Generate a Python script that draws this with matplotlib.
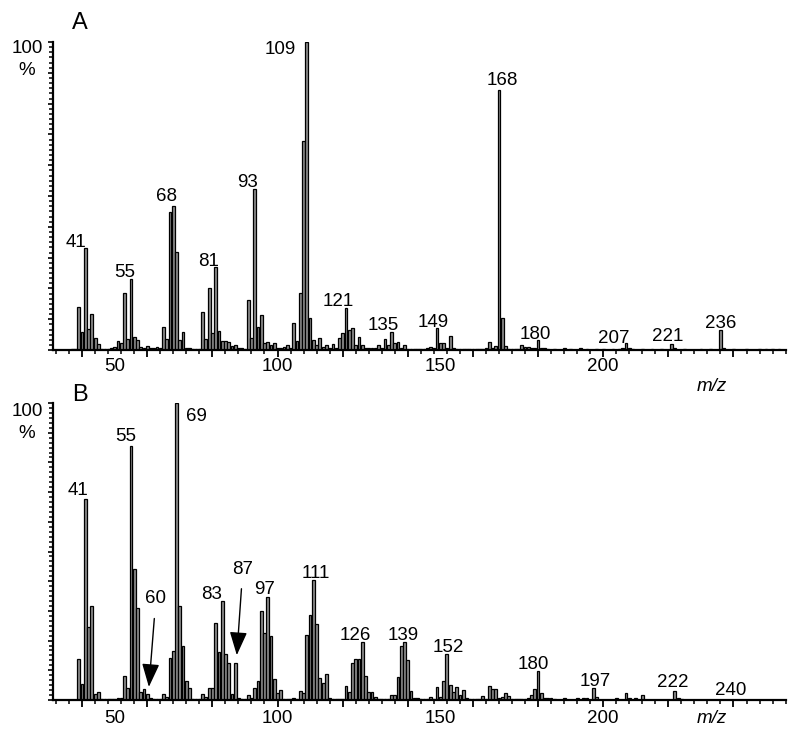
import matplotlib.pyplot as plt
from matplotlib.ticker import MultipleLocator

plt.rcParams['font.family'] = ['Liberation Sans', 'DejaVu Sans']

# spectrum A (m/z, relative intensity %)
mz_a = [37, 38, 39, 40, 41, 42, 43, 44, 45, 46, 47, 48, 49, 50, 51, 52, 53, 54, 55, 56,
        57, 58, 59, 60, 61, 62, 63, 64, 65, 66, 67, 68, 69, 70, 71, 72, 73, 74, 75, 76,
        77, 78, 79, 80, 81, 82, 83, 84, 85, 86, 87, 88, 89, 90, 91, 92, 93, 94, 95, 96,
        97, 98, 99, 100, 101, 102, 103, 104, 105, 106, 107, 108, 109, 110, 111, 112, 113, 114, 115, 116,
        117, 118, 119, 120, 121, 122, 123, 124, 125, 126, 127, 128, 129, 130, 131, 132, 133, 134, 135, 136,
        137, 138, 139, 140, 141, 142, 143, 144, 145, 146, 147, 148, 149, 150, 151, 152, 153, 154, 155, 156,
        157, 158, 159, 160, 161, 162, 163, 164, 165, 166, 167, 168, 169, 170, 171, 172, 173, 174, 175, 176,
        177, 178, 179, 180, 181, 182, 183, 185, 188, 190, 193, 195, 198, 200, 203, 205, 206, 207, 208, 209,
        212, 215, 218, 221, 222, 225, 230, 233, 236, 237, 240, 244, 248, 250, 252, 254]
int_a = [0.4, 0.4, 14, 6, 33, 6.7, 11.7, 3.8, 2, 0.4, 0.3, 0.3, 0.5, 0.9, 3, 2.2, 18.4, 3.5, 23, 4.3,
         3.2, 1, 0.5, 1.3, 0.5, 0.5, 1, 0.5, 7.6, 3.5, 44.7, 46.8, 31.8, 3.2, 6, 0.8, 0.6, 0.4, 0.4, 0.3,
         12.2, 3.5, 20, 5.4, 27, 6.2, 2.9, 2.9, 2.5, 1.2, 1.6, 0.5, 0.5, 0.3, 16.2, 4, 52.2, 7.6, 11.4, 2.4,
         2.7, 1.6, 2.4, 0.7, 0.7, 1, 1.6, 0.7, 8.8, 3, 18.6, 68, 100, 10.3, 3.2, 1.6, 3.8, 1, 1.6, 0.5,
         2, 0.5, 4, 5.6, 13.5, 6.5, 7.3, 1.6, 4.3, 1.6, 0.7, 0.7, 0.5, 0.5, 1.6, 0.5, 3.5, 1.6, 5.7, 2.2,
         2.7, 0.5, 1.6, 0.3, 0.3, 0.4, 0.3, 0.3, 0.4, 0.5, 1, 0.5, 7.3, 2.2, 2.4, 0.5, 4.7, 0.5, 0.3, 0.3,
         0.3, 0.3, 0.4, 0.4, 0.4, 0.3, 0.3, 0.5, 2.7, 0.5, 1.3, 84.4, 10.5, 1.3, 0.4, 0.3, 0.3, 0.3, 1.6, 1,
         1, 0.8, 0.5, 3.2, 0.8, 0.5, 0.4, 0.3, 0.6, 0.3, 0.6, 0.4, 0.4, 0.3, 0.4, 0.4, 0.5, 2.2, 0.8, 0.4,
         0.3, 0.3, 0.3, 1.8, 0.5, 0.3, 0.3, 0.3, 6.5, 0.5, 0.3, 0.3, 0.3, 0.3, 0.3, 0.3]
labels_a = [41, 55, 68, 81, 93, 109, 121, 135, 149, 168, 180, 207, 221, 236]

# spectrum B
mz_b = [39, 40, 41, 42, 43, 44, 45, 46, 47, 48, 49, 50, 51, 52, 53, 54, 55, 56, 57, 58,
        59, 60, 61, 62, 63, 64, 65, 66, 67, 68, 69, 70, 71, 72, 73, 74, 75, 76, 77, 78,
        79, 80, 81, 82, 83, 84, 85, 86, 87, 88, 89, 90, 91, 92, 93, 94, 95, 96, 97, 98,
        99, 100, 101, 102, 103, 104, 105, 106, 107, 108, 109, 110, 111, 112, 113, 114, 115, 116, 117, 118,
        119, 120, 121, 122, 123, 124, 125, 126, 127, 128, 129, 130, 131, 132, 133, 134, 135, 136, 137, 138,
        139, 140, 141, 142, 143, 144, 145, 146, 147, 148, 149, 150, 151, 152, 153, 154, 155, 156, 157, 158,
        159, 160, 161, 162, 163, 164, 165, 166, 167, 168, 169, 170, 171, 172, 173, 174, 175, 176, 177, 178,
        179, 180, 181, 182, 183, 184, 185, 188, 192, 194, 195, 197, 198, 204, 207, 208, 210, 212, 222, 223,
        224]
int_b = [13.8, 5.3, 67.6, 24.5, 31.7, 1.9, 2.8, 0.3, 0.2, 0.2, 0.2, 0.3, 0.8, 0.6, 8.1, 4.2, 85.6, 44, 30.9, 2.8,
         3.6, 1.9, 0.6, 0.3, 0.3, 0.3, 1.9, 0.9, 14.3, 16.6, 100, 31.5, 18.2, 6.4, 4.2, 0.4, 0.3, 0.3, 1.9, 0.9,
         3.9, 3.9, 25.8, 16.3, 33.5, 15.5, 12.6, 1.9, 12.6, 0.6, 0.3, 0.3, 1.7, 0.8, 3.9, 6.5, 29.8, 22.5, 34.6, 21.6,
         7, 2.2, 3.4, 0.4, 0.4, 0.4, 0.8, 0.4, 3.1, 2.2, 21.9, 28.7, 40.4, 25.6, 7.3, 5.8, 8.8, 0.8, 0.3, 0.3,
         0.4, 0.4, 4.7, 2.8, 12.4, 13.8, 13.8, 19.4, 8.2, 2.8, 2.6, 1.1, 0.4, 0.4, 0.3, 0.4, 1.7, 1.7, 7.9, 18.3,
         19.4, 13.3, 3, 0.8, 0.8, 0.3, 0.3, 0.3, 1.1, 0.4, 4.3, 1.1, 6.4, 15.5, 5.1, 2.6, 4.5, 1.7, 3.4, 0.8,
         0.3, 0.3, 0.4, 0.4, 1.3, 0.4, 4.7, 3.6, 3.6, 0.8, 1.1, 2.5, 1.3, 0.4, 0.3, 0.3, 0.3, 0.3, 0.8, 1.7,
         3.6, 9.6, 2.5, 0.8, 0.6, 0.6, 0.4, 0.8, 0.8, 0.8, 0.8, 3.9, 1.1, 0.8, 2.2, 0.8, 0.8, 1.7, 3, 0.8,
         0.5]
labels_b = [41, 55, 69, 83, 97, 111, 126, 139, 152, 180, 197, 222, 240]
arrow_labels_b = [60, 87]

x_ticklabels = [50, 100, 150, 200]

# label nudges in pixels (dx, dy) relative to the peak top
nudge_a = {41: (-9, 1), 55: (-6, 2), 68: (-7, 5), 81: (-7, 1), 93: (-7, 2), 109: (-27, -12),
           121: (-8, 2), 135: (-8, 2), 149: (-4, 1), 168: (3, 5), 180: (-3, 1), 207: (-12, 0),
           221: (-4, 3), 236: (0, 2)}
nudge_b = {41: (-7, 4), 55: (-5, 5), 69: (20, -18), 83: (-11, 2), 97: (-3, 3), 111: (2, 2),
           126: (-7, 2), 139: (-1, 2), 152: (1, 2), 180: (-5, 2), 197: (2, 2), 222: (-2, 4),
           240: (-3, 5)}
arrow_nudge_b = {60: (7, 88), 87: (6, 86)}

fs = 13.5

fig = plt.figure(figsize=(8, 7.38), dpi=100)
ax_a = fig.add_axes([0.066, 0.5257, 0.916, 0.4173])
ax_b = fig.add_axes([0.066, 0.0515, 0.916, 0.4024])


def draw_panel(ax, mz, inten, labels, nudge, letter, letter_y, pct_y, tick_y, mz_label_y):
    ax.bar(mz, inten, width=0.85, color='#8c8c8c', edgecolor='black', linewidth=0.9, zorder=2)
    ax.set_xlim(31, 256)
    ax.set_ylim(0, 100)
    for side in ['top', 'right']:
        ax.spines[side].set_visible(False)
    ax.spines['left'].set_linewidth(1.6)
    ax.spines['bottom'].set_linewidth(1.6)
    ax.xaxis.set_major_locator(MultipleLocator(20))
    ax.xaxis.set_minor_locator(MultipleLocator(4))
    ax.yaxis.set_major_locator(MultipleLocator(10))
    ax.yaxis.set_minor_locator(MultipleLocator(10 / 6))
    ax.tick_params(axis='x', which='major', length=5, width=1.3, labelbottom=False)
    ax.tick_params(axis='x', which='minor', length=3, width=1.1)
    ax.tick_params(axis='y', which='major', length=3.5, width=1.2, labelleft=False)
    ax.tick_params(axis='y', which='minor', length=2.6, width=1.1)

    trans = ax.get_xaxis_transform()
    for v in x_ticklabels:
        ax.text(v, tick_y, str(v), transform=trans, ha='center', va='center', fontsize=fs)
    ax.text(0.899, mz_label_y, 'm/z', transform=ax.transAxes, ha='center', va='center',
            fontsize=fs, style='italic')

    ax.text(-0.035, pct_y[0], '100', transform=ax.transAxes, ha='center', va='center', fontsize=fs)
    ax.text(-0.036, pct_y[1], '%', transform=ax.transAxes, ha='center', va='center', fontsize=fs)
    ax.text(0.0368, letter_y, letter, transform=ax.transAxes, ha='center', va='center', fontsize=17)

    heights = dict(zip(mz, inten))
    for m in labels:
        dx, dy = nudge[m]
        ax.annotate(str(m), xy=(m, heights.get(m, 0)), xytext=(dx, dy), textcoords='offset pixels',
                    ha='center', va='baseline', fontsize=fs, annotation_clip=False)
    return heights


draw_panel(ax_a, mz_a, int_a, labels_a, nudge_a, 'A', 1.062, (0.98, 0.909), -0.055, -0.117)
heights_b = draw_panel(ax_b, mz_b, int_b, labels_b, nudge_b, 'B', 1.027, (0.973, 0.899), -0.061, -0.061)

for m in arrow_labels_b:
    dx, dy = arrow_nudge_b[m]
    ax_b.annotate(str(m), xy=(m + 0.5, heights_b[m] + 2.5), xytext=(dx, dy), textcoords='offset pixels',
                  ha='center', va='center', fontsize=fs,
                  arrowprops=dict(arrowstyle='-|>,head_length=1.2,head_width=0.45', mutation_scale=12,
                                  color='black', lw=1, shrinkA=6, shrinkB=0))

plt.savefig('out.png', dpi=100)
plt.close()
